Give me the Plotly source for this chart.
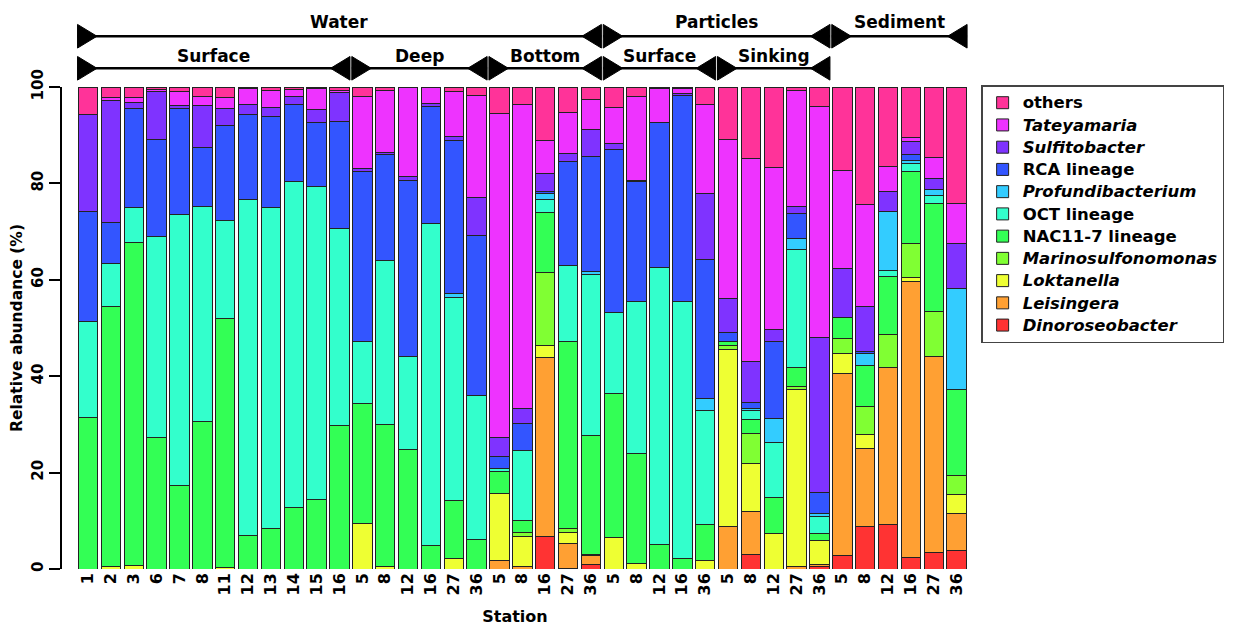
import plotly.graph_objects as go

stations = ["1", "2", "3", "6", "7", "8", "11", "12", "13", "14", "15", "16",
            "5", "8", "12", "16", "27", "36",
            "5", "8", "16", "27", "36",
            "5", "8", "12", "16", "36",
            "5", "8", "12", "27", "36",
            "5", "8", "12", "16", "27", "36"]

# segment values (%), bottom to top of each bar
dinoroseobacter = [0, 0, 0, 0, 0, 0, 0, 0, 0, 0, 0, 0,
                   0, 0, 0, 0, 0, 0,
                   0, 0, 6.7, 0.2, 1.0,
                   0, 0, 0, 0, 0,
                   0, 3.1, 0, 0, 0.6,
                   2.9, 8.9, 9.3, 2.4, 3.5, 3.8]
leisingera = [0, 0, 0, 0, 0, 0, 0, 0, 0, 0, 0, 0,
              0, 0, 0, 0, 0, 0,
              1.7, 0.5, 37.1, 5.0, 1.8,
              0, 0, 0, 0, 0,
              8.9, 8.8, 0, 0.5, 0.4,
              37.6, 16.2, 32.6, 57.3, 40.6, 7.8]
loktanella = [0, 0.5, 0.8, 0, 0, 0, 0.3, 0, 0, 0, 0, 0,
              9.5, 0.6, 0, 0, 2.1, 0,
              13.9, 6.2, 2.6, 2.4, 0.3,
              6.6, 1.2, 0, 0, 1.7,
              36.6, 10.0, 7.4, 36.7, 4.9,
              4.3, 2.9, 0, 0.7, 0, 3.8]
marinosulfonomonas = [0, 0, 0, 0, 0, 0, 0, 0, 0, 0, 0, 0,
                      0, 0, 0, 0, 0, 0,
                      0, 0.9, 15.1, 0.7, 0,
                      0, 0, 0, 0, 0,
                      0.9, 6.3, 0, 0.7, 0,
                      3.0, 5.7, 6.7, 7.1, 9.4, 4.0]
nac11_7 = [31.5, 54.0, 66.9, 27.3, 17.4, 30.6, 51.6, 6.9, 8.4, 12.7, 14.4, 29.8,
           24.8, 29.4, 24.8, 4.8, 12.2, 6.2,
           4.7, 2.4, 12.4, 38.8, 24.7,
           29.9, 22.8, 5.0, 2.2, 7.6,
           0.7, 2.9, 7.5, 4.0, 1.5,
           4.3, 8.5, 12.1, 14.9, 22.4, 17.8]
oct_lineage = [19.8, 8.8, 7.4, 41.7, 56.2, 44.7, 20.4, 69.7, 66.7, 67.6, 65.0, 40.8,
               12.8, 34.0, 19.3, 66.8, 42.1, 29.8,
               0.5, 14.6, 2.7, 15.9, 33.2,
               16.8, 31.4, 57.5, 53.2, 23.6,
               0.2, 1.8, 11.4, 24.4, 3.5,
               0, 0, 1.3, 1.7, 1.6, 0]
profundibacterium = [0, 0, 0, 0, 0, 0, 0, 0, 0, 0, 0, 0,
                     0, 0, 0, 0, 0.8, 0,
                     0, 0, 1.4, 0, 0.7,
                     0, 0, 0, 0, 2.4,
                     0, 0.3, 5.0, 2.2, 0.7,
                     0, 2.6, 12.2, 0.7, 1.2, 20.9]
rca_lineage = [22.9, 8.5, 20.5, 20.1, 22.0, 12.2, 19.7, 17.7, 18.7, 16.0, 13.3, 22.3,
               35.3, 22.0, 36.5, 24.4, 31.7, 33.2,
               2.5, 5.5, 0.3, 21.6, 23.9,
               33.7, 24.9, 30.2, 42.9, 28.9,
               1.7, 1.4, 15.8, 5.3, 4.3,
               0, 0.4, 0, 1.2, 0, 0]
sulfitobacter = [20.1, 25.4, 1.1, 9.9, 0.6, 8.7, 3.6, 2.1, 2.0, 1.8, 2.6, 5.9,
                 0.7, 0.5, 0.9, 0.5, 0.9, 7.8,
                 4.0, 3.1, 3.8, 1.6, 5.6,
                 1.2, 0.3, 0, 0.3, 13.7,
                 7.2, 8.4, 2.5, 1.5, 32.2,
                 10.2, 9.3, 4.1, 2.7, 2.3, 9.4]
tateyamaria = [0, 0.6, 1.2, 0.4, 2.9, 1.9, 2.3, 3.2, 3.5, 1.4, 4.4, 0.5,
               15.0, 12.8, 18.4, 3.5, 9.2, 21.3,
               67.2, 63.1, 6.8, 8.5, 6.2,
               7.6, 17.5, 7.0, 1.1, 18.4,
               32.9, 42.1, 33.8, 24.0, 47.9,
               20.4, 21.1, 5.3, 0.8, 4.3, 8.4]
others = [5.7, 2.2, 2.1, 0.6, 0.9, 1.9, 2.1, 0.4, 0.7, 0.5, 0.3, 0.7,
          1.9, 0.7, 0.1, 0, 1.0, 1.7,
          5.5, 3.7, 11.1, 5.3, 2.6,
          4.2, 1.9, 0.3, 0.3, 3.7,
          10.9, 14.9, 16.6, 0.7, 4.0,
          17.3, 24.4, 16.4, 10.5, 14.7, 24.1]

series = [
    ("<i>Dinoroseobacter</i>", dinoroseobacter, "#FF3333"),
    ("<i>Leisingera</i>", leisingera, "#FFA033"),
    ("<i>Loktanella</i>", loktanella, "#EEFF33"),
    ("<i>Marinosulfonomonas</i>", marinosulfonomonas, "#80FF33"),
    ("NAC11-7 lineage", nac11_7, "#33FF55"),
    ("OCT lineage", oct_lineage, "#33FFCC"),
    ("<i>Profundibacterium</i>", profundibacterium, "#33CCFF"),
    ("RCA lineage", rca_lineage, "#3355FF"),
    ("<i>Sulfitobacter</i>", sulfitobacter, "#7F33FF"),
    ("<i>Tateyamaria</i>", tateyamaria, "#EE33FF"),
    ("others", others, "#FF3399"),
]

# group brackets: (label, first bar index, last bar index, row)
groups = [
    ("Water", 0, 22, 1), ("Particles", 23, 32, 1), ("Sediment", 33, 38, 1),
    ("Surface", 0, 11, 2), ("Deep", 12, 17, 2), ("Bottom", 18, 22, 2),
    ("Surface", 23, 27, 2), ("Sinking", 28, 32, 2),
]

FONT = "DejaVu Sans"
xpos = list(range(len(stations)))

fig = go.Figure()
for name, vals, col in series:
    fig.add_trace(go.Bar(
        x=xpos, y=[v if v > 0 else None for v in vals],
        name=f'<span style="font-size:16.5px">{name}</span>',
        width=0.85, marker=dict(color=col, line=dict(color="#222222", width=1)),
    ))

row_y = {1: 1.1053, 2: 1.0388}
label_y = {1: 1.134, 2: 1.064}
half_h = 0.0245
tri_w = 0.85
gap = 0.04
shapes = []
annotations = []
for label, a, b, row in groups:
    x0 = a - 0.5 + gap
    x1 = b + 0.5 - gap
    y = row_y[row]
    shapes.append(dict(type="line", xref="x", yref="paper", x0=x0, x1=x1, y0=y, y1=y,
                       line=dict(color="black", width=2.5)))
    shapes.append(dict(type="path", xref="x", yref="paper",
                       path=f"M {x0} {y - half_h} L {x0} {y + half_h} L {x0 + tri_w} {y} Z",
                       fillcolor="black", line=dict(color="black", width=1)))
    shapes.append(dict(type="path", xref="x", yref="paper",
                       path=f"M {x1} {y - half_h} L {x1} {y + half_h} L {x1 - tri_w} {y} Z",
                       fillcolor="black", line=dict(color="black", width=1)))
    annotations.append(dict(text=label, xref="x", yref="paper", x=(a + b) / 2, y=label_y[row],
                            showarrow=False, xanchor="center", yanchor="middle",
                            font=dict(family=FONT, size=17, color="black", weight="bold")))

fig.update_layout(
    width=1237, height=627,
    margin=dict(l=54, r=276.6, t=79, b=66.4, autoexpand=False),
    barmode="stack", bargap=0.15,
    plot_bgcolor="white", paper_bgcolor="white",
    font=dict(family=FONT, color="black"),
    shapes=shapes, annotations=annotations,
    legend=dict(
        x=1.0145, xanchor="left", y=1.004, yanchor="top",
        traceorder="reversed",
        font=dict(family=FONT, size=14.8, color="black", weight="bold"),
        bordercolor="#444444", borderwidth=1.5, bgcolor="white",
        itemclick=False,
    ),
    xaxis=dict(
        range=[-1.14, 38.5], tickmode="array", tickvals=xpos, ticktext=stations,
        tickangle=-90, showline=False, showgrid=False, zeroline=False, ticks="",
        tickfont=dict(family=FONT, size=16, color="black", weight="bold"),
        title=dict(text="Station", font=dict(family=FONT, size=16, color="black", weight="bold"),
                   standoff=16),
    ),
    yaxis=dict(
        range=[0, 100], tickvals=[0, 20, 40, 60, 80, 100], tickangle=-90,
        showline=True, linecolor="black", linewidth=2, ticks="outside", ticklen=11,
        tickwidth=2, tickcolor="black", showgrid=False, zeroline=False,
        tickfont=dict(family=FONT, size=15, color="black", weight="bold"),
        title=dict(text="Relative abundance (%)",
                   font=dict(family=FONT, size=15.5, color="black", weight="bold"), standoff=4),
    ),
)

fig.write_html("out.html")
